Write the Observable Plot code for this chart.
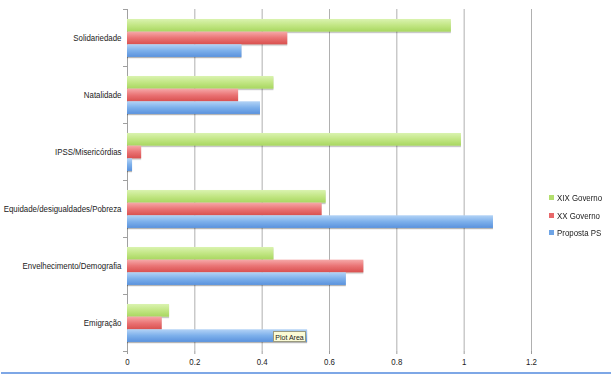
<!DOCTYPE html>
<html><head><meta charset="utf-8">
<script src="https://cdn.jsdelivr.net/npm/d3@7"></script>
<script src="https://cdn.jsdelivr.net/npm/@observablehq/plot@0.6"></script>
<style>
body{margin:0;background:#fff;}
#wrap{position:relative;width:611px;height:374px;overflow:hidden;font-family:"Liberation Sans",sans-serif;color:#222;}
.leg{position:absolute;left:549px;font-size:9.5px;line-height:10px;white-space:nowrap;}
.leg i{display:inline-block;width:5px;height:5px;margin-right:3px;vertical-align:1px;}
.leg span{display:inline-block;transform:scaleX(0.83);transform-origin:0 50%;}
#tip{position:absolute;left:273px;top:331px;width:33px;height:11px;background:#fbfbd6;border:1px solid #9a9a80;font-size:7px;line-height:11px;text-align:center;box-sizing:border-box;}
#bottomline{position:absolute;left:1px;top:372px;width:610px;height:1.5px;background:#7ea7e6;}
</style></head><body><div id="wrap"></div>
<script>
const categories = ["Solidariedade","Natalidade","IPSS/Misericórdias","Equidade/desigualdades/Pobreza","Envelhecimento/Demografia","Emigração"];
const seriesNames = ["XIX Governo","XX Governo","Proposta PS"];
const xixGoverno = [0.962,0.435,0.992,0.59,0.435,0.125];
const xxGoverno  = [0.476,0.33,0.042,0.578,0.702,0.103];
const propostaPS = [0.34,0.395,0.015,1.087,0.65,0.535];
const xTicks = [0,0.2,0.4,0.6,0.8,1,1.2];
const seriesColors = ["#b3df6e","#e8686a","#6ea4e6"];

const rows = vals => categories.map((c,i)=>({cat:c, i, v: vals[i]}));
const slot = [0.175, 0.397, 0.619, 0.841];

const plot = Plot.plot({
  width: 611, height: 374,
  marginLeft: 127, marginRight: 80, marginTop: 9, marginBottom: 23,
  style: {fontFamily: '"Liberation Sans",sans-serif', fontSize: "9.5px", color: "#222", background: "transparent"},
  x: {type: "linear", domain: [0, 1.2]},
  y: {type: "linear", domain: [0, 6], reverse: true},
  marks: [
    Plot.gridX(xTicks, {stroke: "#9c9c9c", strokeOpacity: 0.8}),
    Plot.ruleX([0], {stroke: "#a0a0a0"}),
    Plot.axisX({ticks: xTicks, tickSize: 3, tickPadding: 4, tickFormat: d => String(d), stroke: "#9c9c9c", label: null}),
    Plot.axisY({ticks: d3.range(7), tickSize: 4, tickFormat: () => "", stroke: "#a0a0a0", label: null}),
    Plot.axisY({ticks: d3.range(6).map(i => i + 0.5), tickSize: 0, tickPadding: 6, tickFormat: t => categories[Math.floor(t)], label: null}),
    Plot.rectX(rows(xixGoverno), {x1: 0, x2: "v", y1: d => d.i + slot[0], y2: d => d.i + slot[1], fill: "url(#gGreen)"}),
    Plot.rectX(rows(xxGoverno), {x1: 0, x2: "v", y1: d => d.i + slot[1], y2: d => d.i + slot[2], fill: "url(#gRed)"}),
    Plot.rectX(rows(propostaPS), {x1: 0, x2: "v", y1: d => d.i + slot[2], y2: d => d.i + slot[3], fill: "url(#gBlue)"})
  ]
});

// condensed look for text (reference uses a narrow UI font)
plot.querySelectorAll('g[aria-label="y-axis tick label"] text, g[aria-label="x-axis tick label"] text').forEach(t => {
  const tr = t.getAttribute("transform") || "";
  t.setAttribute("transform", tr + " scale(0.83,1)");
});

// gradients & shadow
const ns = "http://www.w3.org/2000/svg";
const defs = document.createElementNS(ns, "defs");
defs.innerHTML = `
<linearGradient id="gGreen" x1="0" y1="0" x2="0" y2="1">
 <stop offset="0" stop-color="#daf3b0"/><stop offset="0.5" stop-color="#c2e684"/><stop offset="1" stop-color="#a8d760"/></linearGradient>
<linearGradient id="gRed" x1="0" y1="0" x2="0" y2="1">
 <stop offset="0" stop-color="#f6a9a9"/><stop offset="0.5" stop-color="#ea7475"/><stop offset="1" stop-color="#d9504f"/></linearGradient>
<linearGradient id="gBlue" x1="0" y1="0" x2="0" y2="1">
 <stop offset="0" stop-color="#b3d3f6"/><stop offset="0.5" stop-color="#7db0eb"/><stop offset="1" stop-color="#5a92dd"/></linearGradient>
<filter id="shadow" x="-5%" y="-20%" width="110%" height="160%">
 <feDropShadow dx="0" dy="1.2" stdDeviation="0.7" flood-color="#000" flood-opacity="0.3"/></filter>`;
plot.insertBefore(defs, plot.firstChild);
plot.querySelectorAll('g[aria-label="rect"]').forEach(g => g.setAttribute("filter", "url(#shadow)"));

const wrap = document.getElementById("wrap");
wrap.appendChild(plot);
plot.style.position = "absolute"; plot.style.left = "0"; plot.style.top = "0";

const legTops = [193, 211, 228];
seriesNames.forEach((s, k) => {
  const d = document.createElement("div");
  d.className = "leg";
  d.style.top = legTops[k] + "px";
  d.innerHTML = `<i style="background:${seriesColors[k]}"></i><span>${s}</span>`;
  wrap.appendChild(d);
});
const tip = document.createElement("div");
tip.id = "tip"; tip.textContent = "Plot Area";
wrap.appendChild(tip);
const bl = document.createElement("div");
bl.id = "bottomline";
wrap.appendChild(bl);
</script></body></html>
